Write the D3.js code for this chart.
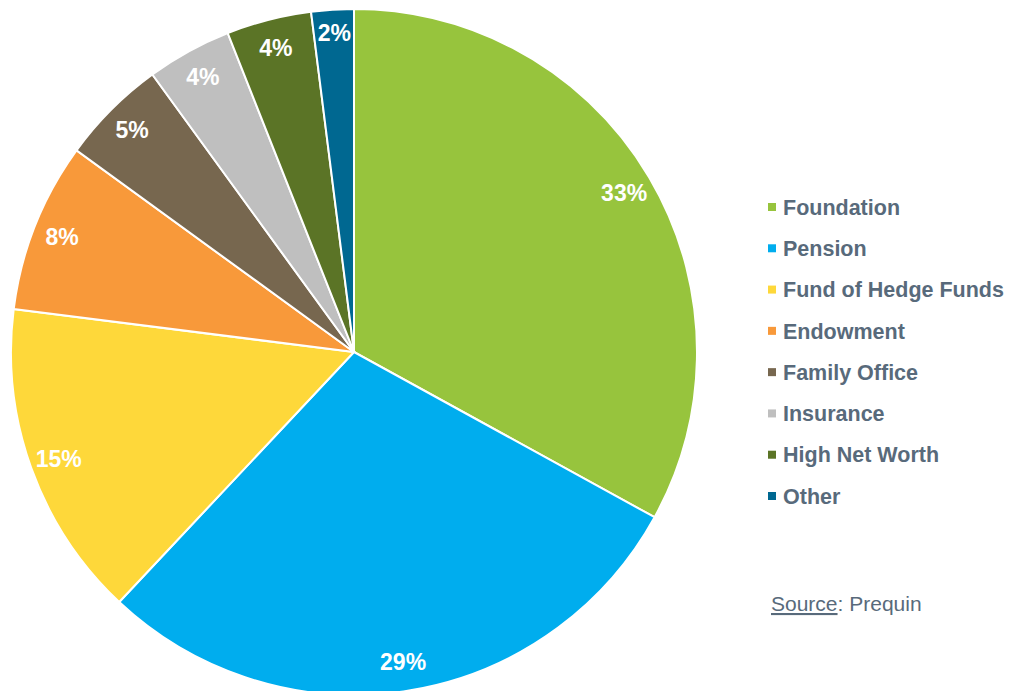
<!DOCTYPE html>
<html>
<head>
<meta charset="utf-8">
<script src="https://cdn.jsdelivr.net/npm/d3@7"></script>
<style>
  body { margin: 0; background: #fff; }
  svg { display: block; font-family: "Liberation Sans", Arial, sans-serif; }
</style>
</head>
<body>
<svg id="chart" width="1010" height="691"></svg>
<script>
// investor types and their share (%)
const categories = ["Foundation", "Pension", "Fund of Hedge Funds", "Endowment",
    "Family Office", "Insurance", "High Net Worth", "Other"]
const shares = [33, 29, 15, 8, 5, 4, 4, 2]
const colors = ["#97c43d", "#00adee", "#fed83a", "#f8993a", "#77674f", "#bfbfbf", "#5b7426", "#006891"]

const svg = d3.select("#chart")
const cx = 354, cy = 352, radius = 343
const textColor = "#586a7b"

const data = categories.map((c, i) => ({ name: c, value: shares[i] }))

const pie = d3.pie().value(d => d.value).sort(null)
const arc = d3.arc().innerRadius(0).outerRadius(radius)
const labelArc = d3.arc().innerRadius(radius * 0.915).outerRadius(radius * 0.915)

const color = d3.scaleOrdinal().domain(categories).range(colors)

const g = svg.append("g").attr("transform", `translate(${cx},${cy})`)

const arcs = pie(data)

g.selectAll("path.slice")
    .data(arcs)
    .enter()
    .append("path")
    .attr("class", "slice")
    .attr("d", arc)
    .attr("fill", d => color(d.data.name))
    .attr("stroke", "#fff")
    .attr("stroke-width", 2)

g.selectAll("text.pct")
    .data(arcs)
    .enter()
    .append("text")
    .attr("class", "pct")
    .attr("transform", d => {
        let [x, y] = labelArc.centroid(d)
        // the thin slice at the top gets pushed out a bit
        if (d.data.value <= 2) { y -= 6 }
        return `translate(${x},${y})`
    })
    .attr("text-anchor", "middle")
    .attr("dy", "0.36em")
    .attr("fill", "#fff")
    .attr("font-weight", "bold")
    .attr("font-size", 23)
    .text(d => d.data.value + "%")

// legend
const legendY = d3.scalePoint().domain(categories).range([207, 496])

const legend = svg.append("g")
    .selectAll("g")
    .data(categories)
    .enter()
    .append("g")
    .attr("transform", d => `translate(768,${legendY(d)})`)

legend.append("rect")
    .attr("x", 0)
    .attr("y", -4)
    .attr("width", 8)
    .attr("height", 8)
    .attr("fill", d => color(d))

legend.append("text")
    .attr("x", 15)
    .attr("dy", "0.36em")
    .attr("fill", textColor)
    .attr("font-weight", "bold")
    .attr("font-size", 21.5)
    .text(d => d)

// source note
const src = svg.append("text")
    .attr("x", 771)
    .attr("y", 611)
    .attr("fill", textColor)
    .attr("font-size", 21)
src.append("tspan").attr("text-decoration", "underline").text("Source")
src.append("tspan").text(": Prequin")
</script>
</body>
</html>
